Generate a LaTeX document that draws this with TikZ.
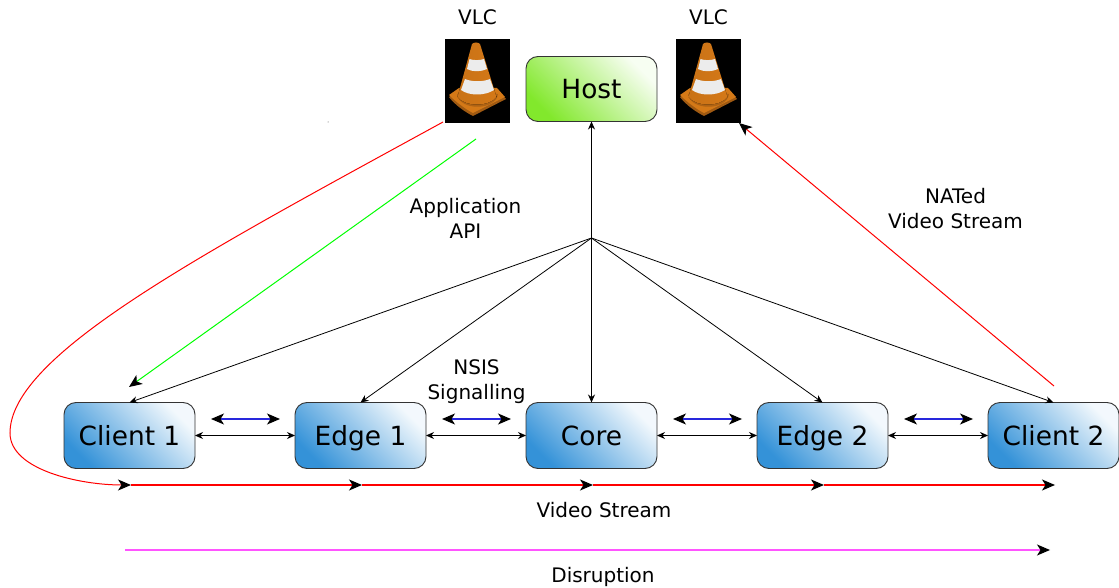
\documentclass[tikz,border=0pt]{standalone}
\usepackage{fontspec}
\setmainfont{DejaVu Sans}
\usepackage{tikz}
\usetikzlibrary{positioning, arrows.meta}

\definecolor{boxblue}{RGB}{52,146,216}
\definecolor{boxgreen}{RGB}{130,232,44}
\definecolor{coneorange}{RGB}{236,134,26}
\definecolor{conedark}{RGB}{160,90,18}
\definecolor{conelight}{RGB}{236,236,236}
\definecolor{disruptcolor}{RGB}{255,85,255}
\definecolor{signalblue}{RGB}{40,40,220}

\tikzset{
    netbox/.style={draw=black!80, rounded corners=12pt, line width=0.9pt, minimum width=131pt, minimum height=66pt, inner sep=0pt, outer sep=0pt, text height=22pt, text depth=3pt, font=\fontsize{26.4}{30}\selectfont, left color=boxblue, right color=boxblue!6!white, shading angle=135},
    hostbox/.style={netbox, minimum height=65pt, left color=boxgreen, right color=boxgreen!6!white, shading angle=135},
    vlcbox/.style={fill=black, minimum width=65pt, minimum height=84pt, inner sep=0pt, outer sep=0pt},
    lbl/.style={align=center, font=\fontsize{20}{25}\selectfont},
    thin arrow/.style={line width=0.8pt, {Stealth[length=8pt,width=7pt]}-{Stealth[length=8pt,width=7pt]}},
    up arrow/.style={line width=0.8pt, -{Stealth[length=8pt,width=7pt]}},
    big/.style={line width=1pt, -{Stealth[length=13pt,width=11pt,inset=3.5pt,black]}},
    flat/.style={big, line width=1.1pt},
    signal/.style={line width=1.1pt, signalblue, {Stealth[length=13pt,width=11pt,inset=3.5pt,black]}-{Stealth[length=13pt,width=11pt,inset=3.5pt,black]}},
    vlccone/.pic={
        % cone picture, drawn from the top left corner of its black box
        \begin{scope}[x=1pt,y=-1pt,shift={(-32.5pt,42pt)}]
            \fill[conedark] (4,58) -- (14,51) -- (52,51) -- (61,60) -- (28,77) .. controls (20,73) and (10,66) .. cycle;
            \fill[coneorange!90!black] (4,56) -- (14,49) -- (52,49) -- (60,58) -- (28,74) .. controls (20,70) and (10,62) .. cycle;
            \fill[conedark!80!coneorange] (12,55) .. controls (14,72) and (51,72) .. (53,55) -- cycle;
            \fill[left color=coneorange!85!black, middle color=coneorange, right color=coneorange!90!black] (27,5) .. controls (29,3) and (33,3) .. (35,5) -- (51.5,58) .. controls (44,68) and (20,68) .. (12.5,58) -- cycle;
            \fill[conelight] (24.5,20) .. controls (28,21.5) and (35,21.5) .. (39,20) -- (42,30) .. controls (36,33) and (27,33) .. (22,30) -- cycle;
            \fill[conelight] (20,40) .. controls (27,43) and (38,43) .. (45,40) -- (49,51) .. controls (40,57) and (24,57) .. (16,51) -- cycle;
        \end{scope}
    }
}

\begin{document}
\begin{tikzpicture}[x=1pt, y=1pt, node distance=100pt]
    \useasboundingbox (0,0) rectangle (1119,587);

    \node (client1) [netbox] at (129.5,151.5) {Client 1};
    \node (edge1) [netbox, right=of client1] {Edge 1};
    \node (core) [netbox, right=of edge1] {Core};
    \node (edge2) [netbox, right=of core] {Edge 2};
    \node (client2) [netbox, right=of edge2] {Client 2};
    \node (host) [hostbox, above=281pt of core] {Host};

    \node (vlc1) [vlcbox] at (477.5,506) {};
    \node (vlc2) [vlcbox] at (708.5,506) {};
    \pic at (vlc1) {vlccone};
    \pic at (vlc2) {vlccone};

    \node (vlclabel1) [lbl, above=11pt of vlc1] {VLC};
    \node (vlclabel2) [lbl, above=11pt of vlc2] {VLC};
    \node (apilabel) [lbl] at (465.5,369) {Application\\API};
    \node (natlabel) [lbl] at (955.5,378) {NATed\\Video Stream};
    \node (nsislabel) [lbl] at (476.5,205.5) {NSIS\\Signalling};
    \node (videolabel) [lbl] at (604,77) {Video Stream};
    \node (disruptlabel) [lbl] at (603,10.5) {Disruption};

    \coordinate (hub) at (591.5,349);
    \coordinate (apistart) at (476,448);
    \coordinate (apiend) at (129,200);
    \coordinate (natstart) at (1054,201);
    \coordinate (natend) at (739,464);
    \coordinate (streamstart) at (443,465);
    \coordinate (s0) at (131,102);
    \coordinate (s1) at (362,102);
    \coordinate (s2) at (593,102);
    \coordinate (s3) at (824,102);
    \coordinate (s4) at (1055,102);
    \coordinate (d0) at (125,37);
    \coordinate (d1) at (1050,37);
    \coordinate (b1a) at (211,168);
    \coordinate (b1b) at (280,168);
    \coordinate (b2a) at (442,168);
    \coordinate (b2b) at (511,168);
    \coordinate (b3a) at (673,168);
    \coordinate (b3b) at (742,168);
    \coordinate (b4a) at (904,168);
    \coordinate (b4b) at (973,168);

    % hub lines
    \draw[up arrow] (hub) -- (host);
    \draw[up arrow] (hub) -- (core);
    \draw[up arrow] (hub) -- (client1.north);
    \draw[up arrow] (hub) -- (edge1.north);
    \draw[up arrow] (hub) -- (edge2.north);
    \draw[up arrow] (hub) -- (client2.north);

    \draw[thin arrow] (client1) -- (edge1);
    \draw[thin arrow] (edge1) -- (core);
    \draw[thin arrow] (core) -- (edge2);
    \draw[thin arrow] (edge2) -- (client2);

    \draw[signal] (b1a) -- (b1b);
    \draw[signal] (b2a) -- (b2b);
    \draw[signal] (b3a) -- (b3b);
    \draw[signal] (b4a) -- (b4b);

    % video stream
    \draw[big, red] (streamstart) .. controls (200,332) and (10,232) .. (10,154) .. controls (10,117) and (80,102) .. (s0);
    \draw[flat, red] (s0) -- (s1);
    \draw[flat, red] (s1) -- (s2);
    \draw[flat, red] (s2) -- (s3);
    \draw[flat, red] (s3) -- (s4);
    \draw[big, green] (apistart) -- (apiend);
    \draw[big, red] (natstart) -- (natend);
    \draw[flat, disruptcolor] (d0) -- (d1);

    % speck above the curve
    \fill[black!70] (328,465) circle (0.5);
\end{tikzpicture}
\end{document}
